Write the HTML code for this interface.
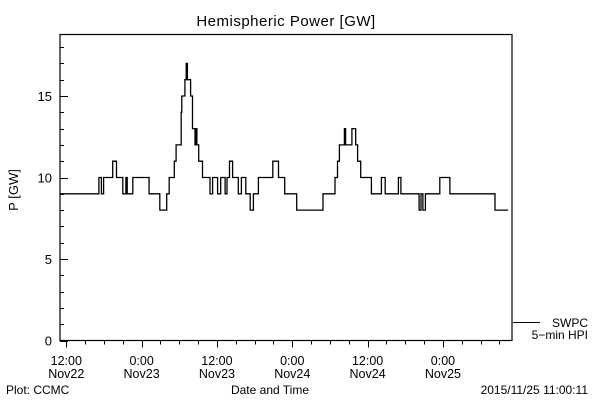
<!DOCTYPE html>
<html><head><meta charset="utf-8"><style>
html,body{margin:0;padding:0;background:#fff;}
svg{display:block;font-family:"Liberation Sans",sans-serif;}
</style></head><body>
<svg id="chart" width="600" height="400" viewBox="0 0 600 400" xmlns="http://www.w3.org/2000/svg">
<rect width="600" height="400" fill="#fff"/>
<text x="286" y="26" font-size="15" text-anchor="middle" letter-spacing="0.5">Hemispheric Power [GW]</text>
<text transform="translate(18,190) rotate(-90)" font-size="13" text-anchor="middle">P [GW]</text>
<text x="270" y="394" font-size="12" text-anchor="middle">Date and Time</text>
<text x="6" y="394" font-size="12">Plot: CCMC</text>
<text x="588" y="394" font-size="12" text-anchor="end">2015/11/25 11:00:11</text>
<g id="axes"></g>
<g id="series"></g>
<g>
<line x1="513" y1="322.5" x2="540" y2="322.5" stroke="#000" stroke-width="1"/>
<text x="588" y="327" font-size="12" text-anchor="end">SWPC</text>
<text x="588" y="339" font-size="12" text-anchor="end">5−min HPI</text>
</g>
</svg>
<script>
// hours since 2015-11-22 11:00 at which each step begins
const stepHours = [0,6.2,6.6,6.95,8.4,9.0,10.0,10.5,10.7,11.6,14.2,15.9,17.0,17.4,18.2,18.5,19.3,19.4,19.9,20.1,20.3,20.8,21.1,21.5,21.6,21.8,22.1,22.7,23.9,24.3,25.1,25.6,26.3,26.6,27.0,27.5,28.4,28.9,29.6,30.3,30.8,31.6,33.9,34.8,35.8,37.7,41.9,43.8,44.2,44.5,45.3,45.5,46.5,47.1,47.4,47.9,49.6,51.2,51.8,53.9,54.3,57.2,57.5,57.8,58.2,60.5,62.1,69.3,71.4];
const stepValues = [9,10,9,10,11,10,9,10,9,10,9,8,9,10,11,12,14,15,16,17,16,15,13,12,13,12,11,10,9,10,9,10,9,10,11,10,9,10,9,8,9,10,11,10,9,8,9,10,11,12,13,12,13,12,11,10,9,10,9,10,9,8,9,8,9,10,9,8,8];
const yTickLabels = [0,5,10,15];
const xTickHours = [1,13,25,37,49,61];
const xTickTimes = ["12:00","0:00","12:00","0:00","12:00","0:00"];
const xTickDates = ["Nov22","Nov23","Nov23","Nov24","Nov24","Nov25"];

const L=60,R=512,T=34.5,B=340.5,H0=0,H1=72,YMAX=(B-T)/16.3;
const NS="http://www.w3.org/2000/svg";
function xs(h){return L+(h-H0)/(H1-H0)*(R-L);}
function ys(v){return B-v/YMAX*(B-T);}
function mk(tag,attrs,parent){const e=document.createElementNS(NS,tag);for(const k in attrs)e.setAttribute(k,attrs[k]);parent.appendChild(e);return e;}
const axes=document.getElementById('axes');
const frame=mk('rect',{x:L,y:T,width:R-L,height:B-T,fill:'none',stroke:'#000','stroke-width':1.2},axes);


for(let v=0;v<=18;v++){
  const y=Math.round(ys(v))+0.5;const major=v%5===0;
  const t=mk('line',{x1:L,x2:L+(major?8:4),y1:y,y2:y,stroke:'#000'},axes);
  
  
}
yTickLabels.forEach(v=>{
  const t=mk('text',{x:L-8,y:ys(v)+5,'font-size':13,'text-anchor':'end'},axes);
  t.textContent=v;
  
  
});
for(let h=1;h<72;h+=3){
  const x=Math.round(xs(h))+0.5;const major=(h-1)%12===0;
  const t=mk('line',{x1:x,x2:x,y1:B,y2:B+(major?7:4),stroke:'#000'},axes);
  
  
}
xTickHours.forEach((h,i)=>{
  const t1=mk('text',{x:xs(h),y:365,'font-size':12.5,'text-anchor':'middle'},axes);
  t1.textContent=xTickTimes[i];
  
  
  const t2=mk('text',{x:xs(h),y:378,'font-size':12.5,'text-anchor':'middle'},axes);
  t2.textContent=xTickDates[i];
  
  
});
let d='';
for(let i=0;i<stepHours.length;i++){
  const x0=xs(stepHours[i]);const x1=i+1<stepHours.length?xs(stepHours[i+1]):xs(stepHours[i]);
  const y=ys(stepValues[i]);
  d+=(i===0?'M':'L')+x0.toFixed(1)+','+y.toFixed(1)+'L'+x1.toFixed(1)+','+y.toFixed(1);
}
const p=mk('path',{d:d,fill:'none',stroke:'#000','stroke-width':1.3},document.getElementById('series'));


</script>
</body></html>
